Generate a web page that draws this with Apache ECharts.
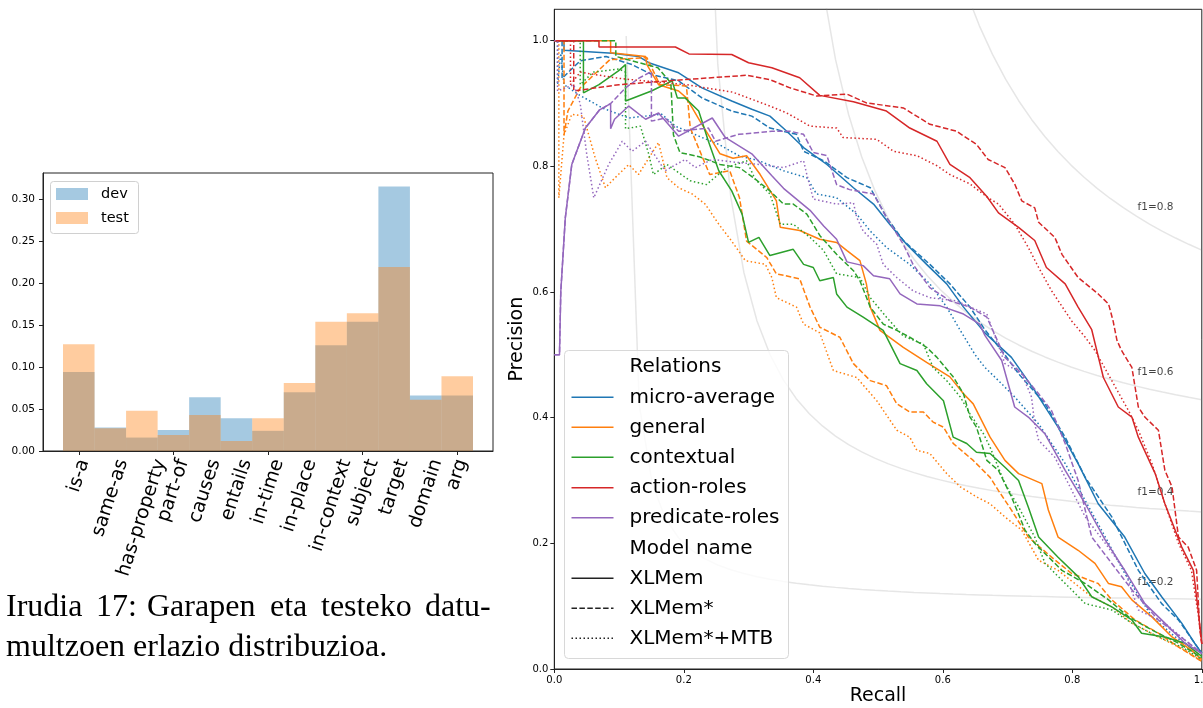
<!DOCTYPE html>
<html>
<head>
<meta charset="utf-8">
<title>Relation distribution and precision-recall curves</title>
<script src="https://cdn.jsdelivr.net/npm/echarts/dist/echarts.min.js"></script>
<style>
  html, body { margin: 0; padding: 0; background: #fff; }
  #main { width: 1203px; height: 708px; }
</style>
</head>
<body>
<div id="main"></div>
<script>
// ---- left: relation distribution (dev / test) ----
var relations = ['is-a', 'same-as', 'has-property', 'part-of', 'causes', 'entails', 'in-time',
                 'in-place', 'in-context', 'subject', 'target', 'domain', 'arg'];
var devShare  = [0.094, 0.028, 0.016, 0.025, 0.064, 0.039, 0.024, 0.070, 0.126, 0.154, 0.315, 0.066, 0.066];
var testShare = [0.127, 0.027, 0.048, 0.019, 0.043, 0.012, 0.039, 0.081, 0.154, 0.164, 0.219, 0.061, 0.089];

// ---- right: precision / recall curves, [recall, precision] ----
var microXL = [[0,1],[0.015,1],[0.015,0.985],[0.09,0.98],[0.13,0.975],[0.146,0.965],[0.192,0.949],[0.228,0.925],[0.274,0.904],[0.305,0.891],[0.333,0.88],[0.359,0.856],[0.385,0.83],[0.421,0.803],[0.462,0.766],[0.493,0.74],[0.518,0.708],[0.544,0.676],[0.575,0.644],[0.606,0.613],[0.632,0.576],[0.665,0.535],[0.706,0.496],[0.742,0.443],[0.778,0.385],[0.809,0.327],[0.84,0.263],[0.881,0.21],[0.912,0.152],[0.938,0.115],[0.969,0.073],[0.989,0.041],[1,0.025]];
var microXLs = [[0,1],[0.012,1],[0.012,0.94],[0.04,0.968],[0.08,0.975],[0.12,0.962],[0.151,0.946],[0.192,0.936],[0.228,0.909],[0.274,0.888],[0.305,0.88],[0.333,0.861],[0.374,0.851],[0.385,0.824],[0.416,0.809],[0.452,0.782],[0.488,0.766],[0.513,0.719],[0.539,0.682],[0.58,0.644],[0.611,0.613],[0.642,0.576],[0.665,0.54],[0.696,0.5],[0.717,0.47],[0.758,0.422],[0.789,0.369],[0.82,0.305],[0.861,0.242],[0.902,0.157],[0.938,0.104],[0.964,0.078],[0.989,0.041],[1,0.025]];
var microMTB = [[0,1],[0.005,1],[0.005,0.93],[0.01,0.98],[0.015,0.93],[0.038,0.914],[0.074,0.893],[0.115,0.877],[0.166,0.883],[0.187,0.864],[0.228,0.846],[0.254,0.835],[0.285,0.817],[0.316,0.809],[0.354,0.793],[0.39,0.782],[0.405,0.756],[0.436,0.75],[0.467,0.724],[0.488,0.697],[0.513,0.671],[0.549,0.644],[0.58,0.613],[0.606,0.576],[0.627,0.539],[0.65,0.5],[0.665,0.48],[0.686,0.459],[0.711,0.433],[0.748,0.39],[0.789,0.327],[0.82,0.268],[0.851,0.21],[0.881,0.152],[0.923,0.083],[0.959,0.051],[1,0.025]];

var generalXL = [[0,1],[0.087,1],[0.087,0.981],[0.141,0.975],[0.143,0.962],[0.161,0.93],[0.192,0.92],[0.204,0.909],[0.225,0.872],[0.256,0.82],[0.276,0.813],[0.297,0.817],[0.318,0.787],[0.343,0.745],[0.349,0.703],[0.379,0.698],[0.41,0.684],[0.436,0.679],[0.452,0.666],[0.472,0.65],[0.482,0.613],[0.488,0.576],[0.503,0.539],[0.539,0.512],[0.575,0.488],[0.611,0.465],[0.632,0.438],[0.647,0.422],[0.673,0.369],[0.696,0.332],[0.717,0.311],[0.753,0.295],[0.763,0.253],[0.778,0.21],[0.809,0.189],[0.835,0.168],[0.856,0.136],[0.876,0.131],[0.892,0.11],[0.923,0.083],[0.954,0.051],[0.984,0.03],[1,0.015]];
var generalXLs = [[0,1],[0.015,1],[0.015,0.85],[0.021,0.888],[0.04,0.925],[0.086,0.97],[0.143,0.973],[0.163,0.93],[0.204,0.928],[0.21,0.861],[0.24,0.787],[0.271,0.793],[0.286,0.75],[0.297,0.681],[0.328,0.655],[0.343,0.629],[0.379,0.621],[0.395,0.576],[0.41,0.544],[0.441,0.528],[0.462,0.486],[0.488,0.459],[0.513,0.451],[0.529,0.422],[0.549,0.409],[0.57,0.409],[0.585,0.393],[0.601,0.385],[0.616,0.359],[0.647,0.332],[0.673,0.305],[0.686,0.284],[0.706,0.253],[0.732,0.21],[0.768,0.178],[0.799,0.152],[0.84,0.136],[0.861,0.11],[0.897,0.078],[0.933,0.057],[0.964,0.035],[1,0.012]];
var generalMTB = [[0,1],[0.007,1],[0.007,0.75],[0.015,0.85],[0.027,0.883],[0.045,0.88],[0.063,0.814],[0.079,0.766],[0.094,0.782],[0.115,0.803],[0.13,0.787],[0.161,0.838],[0.174,0.782],[0.192,0.766],[0.213,0.756],[0.233,0.74],[0.254,0.708],[0.274,0.681],[0.295,0.65],[0.326,0.644],[0.336,0.623],[0.343,0.591],[0.374,0.576],[0.385,0.549],[0.41,0.535],[0.431,0.475],[0.467,0.464],[0.498,0.427],[0.529,0.38],[0.549,0.369],[0.56,0.348],[0.58,0.343],[0.606,0.311],[0.627,0.29],[0.652,0.274],[0.673,0.263],[0.696,0.242],[0.722,0.221],[0.748,0.173],[0.778,0.157],[0.804,0.136],[0.83,0.115],[0.861,0.099],[0.892,0.073],[0.933,0.051],[0.974,0.03],[1,0.012]];

var contextXL = [[0,1],[0.045,1],[0.045,0.917],[0.069,0.93],[0.099,0.952],[0.11,0.962],[0.11,0.904],[0.15,0.92],[0.182,0.936],[0.19,0.909],[0.202,0.909],[0.223,0.888],[0.238,0.84],[0.254,0.793],[0.274,0.761],[0.29,0.724],[0.3,0.679],[0.316,0.687],[0.333,0.658],[0.369,0.668],[0.385,0.644],[0.4,0.639],[0.41,0.618],[0.431,0.623],[0.436,0.597],[0.452,0.576],[0.477,0.56],[0.508,0.539],[0.534,0.486],[0.56,0.475],[0.575,0.454],[0.601,0.427],[0.616,0.369],[0.637,0.359],[0.652,0.345],[0.673,0.343],[0.696,0.321],[0.717,0.3],[0.732,0.258],[0.748,0.21],[0.778,0.178],[0.809,0.147],[0.83,0.115],[0.861,0.099],[0.892,0.078],[0.907,0.057],[0.943,0.051],[0.974,0.041],[1,0.02]];
var contextXLs = [[0,1],[0.095,1],[0.095,0.975],[0.16,0.957],[0.18,0.933],[0.184,0.85],[0.194,0.822],[0.225,0.815],[0.256,0.803],[0.286,0.798],[0.31,0.78],[0.333,0.761],[0.354,0.74],[0.369,0.74],[0.39,0.724],[0.41,0.69],[0.436,0.66],[0.462,0.634],[0.472,0.618],[0.488,0.576],[0.508,0.549],[0.529,0.539],[0.549,0.528],[0.575,0.512],[0.591,0.496],[0.616,0.465],[0.632,0.438],[0.642,0.401],[0.652,0.385],[0.668,0.332],[0.686,0.316],[0.706,0.274],[0.727,0.221],[0.742,0.2],[0.784,0.157],[0.82,0.136],[0.856,0.11],[0.887,0.083],[0.923,0.062],[0.964,0.041],[1,0.018]];
var contextMTB = [[0,1],[0.04,1],[0.04,0.93],[0.06,0.95],[0.1,0.955],[0.11,0.95],[0.11,0.86],[0.133,0.864],[0.146,0.819],[0.153,0.787],[0.174,0.803],[0.21,0.777],[0.235,0.771],[0.266,0.798],[0.297,0.809],[0.31,0.78],[0.333,0.756],[0.349,0.708],[0.369,0.708],[0.395,0.687],[0.416,0.666],[0.436,0.629],[0.472,0.623],[0.488,0.591],[0.513,0.56],[0.539,0.53],[0.57,0.517],[0.585,0.48],[0.606,0.459],[0.627,0.433],[0.642,0.406],[0.663,0.374],[0.673,0.353],[0.696,0.295],[0.717,0.258],[0.742,0.21],[0.758,0.168],[0.799,0.126],[0.82,0.104],[0.861,0.094],[0.892,0.073],[0.933,0.051],[0.969,0.035],[1,0.015]];

var actionXL = [[0,1],[0.069,1],[0.069,0.99],[0.187,0.99],[0.208,0.979],[0.274,0.978],[0.3,0.965],[0.336,0.957],[0.379,0.941],[0.41,0.913],[0.462,0.903],[0.513,0.888],[0.549,0.861],[0.591,0.84],[0.611,0.803],[0.642,0.782],[0.668,0.752],[0.686,0.726],[0.717,0.703],[0.742,0.682],[0.76,0.639],[0.789,0.613],[0.809,0.576],[0.83,0.54],[0.848,0.464],[0.871,0.417],[0.892,0.401],[0.902,0.369],[0.928,0.311],[0.943,0.263],[0.969,0.194],[0.987,0.157],[0.995,0.088],[1,0.04]];
var actionXLs = [[0,1],[0.03,1],[0.03,0.92],[0.1,0.93],[0.2,0.938],[0.297,0.945],[0.333,0.938],[0.364,0.925],[0.405,0.912],[0.452,0.915],[0.482,0.901],[0.539,0.893],[0.58,0.867],[0.621,0.856],[0.652,0.835],[0.67,0.811],[0.696,0.798],[0.711,0.772],[0.722,0.745],[0.742,0.734],[0.748,0.711],[0.773,0.687],[0.784,0.66],[0.809,0.623],[0.84,0.597],[0.856,0.581],[0.863,0.554],[0.869,0.523],[0.876,0.507],[0.892,0.48],[0.902,0.417],[0.912,0.401],[0.933,0.38],[0.943,0.316],[0.954,0.29],[0.964,0.21],[0.979,0.194],[0.992,0.157],[0.997,0.062],[1,0.04]];
var actionMTB = [[0,1],[0.025,1],[0.025,0.93],[0.04,0.95],[0.1,0.94],[0.15,0.935],[0.204,0.93],[0.276,0.918],[0.333,0.896],[0.359,0.885],[0.395,0.864],[0.436,0.861],[0.446,0.846],[0.498,0.843],[0.524,0.824],[0.56,0.817],[0.591,0.801],[0.611,0.787],[0.642,0.772],[0.67,0.75],[0.686,0.74],[0.711,0.708],[0.732,0.671],[0.748,0.639],[0.768,0.602],[0.799,0.554],[0.82,0.528],[0.835,0.507],[0.861,0.459],[0.887,0.411],[0.902,0.38],[0.923,0.327],[0.943,0.263],[0.964,0.2],[0.984,0.157],[0.995,0.083],[1,0.04]];

var predicateXL = [[0,0.5],[0.008,0.5],[0.01,0.6],[0.017,0.718],[0.027,0.803],[0.048,0.861],[0.07,0.89],[0.087,0.9],[0.087,0.86],[0.093,0.875],[0.115,0.896],[0.141,0.875],[0.161,0.885],[0.192,0.848],[0.244,0.877],[0.264,0.846],[0.305,0.82],[0.336,0.785],[0.354,0.765],[0.395,0.73],[0.416,0.705],[0.436,0.684],[0.452,0.648],[0.477,0.642],[0.493,0.626],[0.518,0.621],[0.534,0.597],[0.56,0.581],[0.596,0.578],[0.632,0.565],[0.657,0.549],[0.665,0.531],[0.691,0.491],[0.711,0.417],[0.732,0.401],[0.758,0.374],[0.789,0.316],[0.82,0.263],[0.851,0.205],[0.881,0.157],[0.912,0.104],[0.943,0.073],[0.974,0.041],[1,0.025]];
var predicateXLs = [[0,0.5],[0.008,0.5],[0.01,0.6],[0.017,0.718],[0.027,0.803],[0.048,0.861],[0.07,0.89],[0.087,0.9],[0.11,0.925],[0.13,0.94],[0.15,0.951],[0.15,0.872],[0.171,0.877],[0.192,0.856],[0.238,0.861],[0.249,0.84],[0.285,0.851],[0.336,0.856],[0.364,0.856],[0.385,0.851],[0.4,0.822],[0.421,0.817],[0.436,0.771],[0.456,0.763],[0.493,0.756],[0.513,0.719],[0.539,0.676],[0.554,0.644],[0.58,0.607],[0.611,0.586],[0.642,0.576],[0.668,0.56],[0.696,0.496],[0.722,0.47],[0.748,0.438],[0.768,0.411],[0.789,0.359],[0.809,0.3],[0.83,0.21],[0.861,0.168],[0.892,0.126],[0.933,0.078],[0.974,0.046],[1,0.025]];
var predicateMTB = [[0,1],[0.005,1],[0.005,0.92],[0.03,0.93],[0.04,0.9],[0.05,0.82],[0.061,0.75],[0.084,0.803],[0.105,0.84],[0.12,0.824],[0.141,0.84],[0.171,0.793],[0.202,0.811],[0.218,0.798],[0.244,0.811],[0.285,0.806],[0.316,0.803],[0.354,0.798],[0.385,0.809],[0.39,0.787],[0.4,0.748],[0.436,0.74],[0.462,0.742],[0.467,0.719],[0.477,0.697],[0.498,0.676],[0.508,0.644],[0.529,0.623],[0.554,0.602],[0.58,0.591],[0.621,0.586],[0.642,0.576],[0.668,0.565],[0.696,0.486],[0.722,0.47],[0.737,0.433],[0.742,0.39],[0.748,0.364],[0.773,0.337],[0.794,0.295],[0.82,0.242],[0.851,0.2],[0.881,0.157],[0.902,0.094],[0.943,0.073],[0.974,0.046],[1,0.025]];

var f1Levels = [0.2, 0.4, 0.6, 0.8];
var relationNames = ['micro-average', 'general', 'contextual', 'action-roles', 'predicate-roles'];
var modelNames = ['XLMem', 'XLMem*', 'XLMem*+MTB'];

var captionWords = ['Irudia', '17:', 'Garapen', 'eta', 'testeko', 'datu-'];
var captionLine2 = 'multzoen erlazio distribuzioa.';

// ---- styles ----
var tab = ['#1f77b4', '#ff7f0e', '#2ca02c', '#d62728', '#9467bd'];
var dashes = ['solid', [5.5, 2.4], [1.5, 2.5]];
var FONT = 'DejaVu Sans';

var prCurves = [
  [microXL, microXLs, microMTB],
  [generalXL, generalXLs, generalMTB],
  [contextXL, contextXLs, contextMTB],
  [actionXL, actionXLs, actionMTB],
  [predicateXL, predicateXLs, predicateMTB]
];

var chart = echarts.init(document.getElementById('main'));

var measureCtx = document.createElement('canvas').getContext('2d');
function textWidth(str, size) {
  measureCtx.font = size + 'px "' + FONT + '"';
  return measureCtx.measureText(str).width;
}

// iso-f1 guide curves, same sampling as the usual sklearn example
function isoCurve(f) {
  var pts = [];
  for (var i = 0; i < 50; i++) {
    var x = 0.01 + i * 0.99 / 49;
    var y = f * x / (2 * x - f);
    if (y >= 0) pts.push([x, y]);
  }
  return pts;
}
function isoLabelY(f) {
  var x = 0.01 + 45 * 0.99 / 49;
  return f * x / (2 * x - f) + 0.02;
}

var series = [];

// histogram bars (overlapping, alpha 0.4)
series.push({
  type: 'bar', xAxisIndex: 1, yAxisIndex: 1, data: devShare,
  barWidth: '100%', barGap: '-100%', silent: true,
  itemStyle: { color: 'rgba(31,119,180,0.4)' }
});
series.push({
  type: 'bar', xAxisIndex: 1, yAxisIndex: 1, data: testShare,
  barWidth: '100%', barGap: '-100%', silent: true,
  itemStyle: { color: 'rgba(255,127,14,0.4)' }
});

// rotated tick labels, centred on the tick like matplotlib does
var LABEL_SIZE = 19;
var LABEL_ROT = 72 * Math.PI / 180;
series.push({
  type: 'custom', xAxisIndex: 1, yAxisIndex: 1, silent: true,
  data: relations.map(function (r, i) { return [i, 0]; }),
  renderItem: function (params, api) {
    var idx = api.value(0);
    var p = api.coord([idx, 0]);
    var txt = relations[idx];
    var w = textWidth(txt, LABEL_SIZE);
    var h = LABEL_SIZE * 0.95;
    var half = (w * Math.sin(LABEL_ROT) + h * Math.cos(LABEL_ROT)) / 2;
    return {
      type: 'text', x: p[0], y: p[1] + 6 + half, rotation: LABEL_ROT,
      style: {
        text: txt, fill: '#000', fontSize: LABEL_SIZE, fontFamily: FONT,
        textAlign: 'center', textVerticalAlign: 'middle'
      }
    };
  }
});

// iso-f1 curves and labels
f1Levels.forEach(function (f) {
  series.push({
    type: 'line', xAxisIndex: 2, yAxisIndex: 2, data: isoCurve(f),
    showSymbol: false, symbol: 'none', silent: true, clip: true, z: 1,
    lineStyle: { color: 'rgba(128,128,128,0.2)', width: 1.5 }
  });
  series.push({
    type: 'scatter', xAxisIndex: 2, yAxisIndex: 2, data: [[0.9, isoLabelY(f)]],
    symbolSize: 1, silent: true, z: 1,
    itemStyle: { color: 'rgba(0,0,0,0)' },
    label: {
      show: true, position: 'right', distance: 0, offset: [0, -4],
      formatter: 'f1=' + f.toFixed(1),
      fontSize: 10.5, fontFamily: FONT, color: '#111'
    }
  });
});

// precision / recall curves
prCurves.forEach(function (group, r) {
  group.forEach(function (pts, m) {
    series.push({
      name: relationNames[r] + ' ' + modelNames[m],
      type: 'line', xAxisIndex: 2, yAxisIndex: 2, data: pts,
      showSymbol: false, symbol: 'none', silent: true, z: 3,
      lineStyle: { color: tab[r], width: 1.5, type: dashes[m] }
    });
  });
});

// ---- hand drawn legends and caption ----
var graphics = [];

// left legend
graphics.push({ type: 'rect', shape: { x: 50.5, y: 181.5, width: 88, height: 52, r: 3 },
  style: { fill: 'rgba(255,255,255,0.8)', stroke: '#d0d0d0', lineWidth: 1 }, z: 10 });
graphics.push({ type: 'rect', shape: { x: 56, y: 188, width: 32, height: 12 },
  style: { fill: 'rgba(31,119,180,0.4)' }, z: 11 });
graphics.push({ type: 'rect', shape: { x: 56, y: 212, width: 32, height: 12 },
  style: { fill: 'rgba(255,127,14,0.4)' }, z: 11 });
graphics.push({ type: 'text', x: 101, y: 194, z: 11,
  style: { text: 'dev', fontSize: 14.5, fontFamily: FONT, fill: '#000', textVerticalAlign: 'middle' } });
graphics.push({ type: 'text', x: 101, y: 218, z: 11,
  style: { text: 'test', fontSize: 14.5, fontFamily: FONT, fill: '#000', textVerticalAlign: 'middle' } });

// right legend
var legendRows = [{ text: 'Relations' }];
relationNames.forEach(function (n, i) { legendRows.push({ text: n, color: tab[i], dash: 'solid' }); });
legendRows.push({ text: 'Model name' });
modelNames.forEach(function (n, i) { legendRows.push({ text: n, color: '#222', dash: dashes[i] }); });
var legendRowY = [366.7, 397.3, 427.3, 457.3, 487.7, 517.7, 548.3, 578.3, 608.3, 638.3];

graphics.push({ type: 'rect', shape: { x: 564.5, y: 350.5, width: 224, height: 308, r: 4 },
  style: { fill: 'rgba(255,255,255,0.8)', stroke: '#d8d8d8', lineWidth: 1 }, z: 10 });
legendRows.forEach(function (row, i) {
  var y = legendRowY[i];
  if (row.color) {
    graphics.push({ type: 'line', z: 11,
      shape: { x1: 571.5, y1: y, x2: 613.5, y2: y },
      style: { stroke: row.color, lineWidth: 1.5, lineDash: row.dash === 'solid' ? null : row.dash } });
  }
  graphics.push({ type: 'text', x: 629.5, y: y, z: 11,
    style: { text: row.text, fontSize: 20, fontFamily: FONT, fill: '#000', textVerticalAlign: 'middle' } });
});

// caption (justified first line, laid out word by word)
var captionX = [6, 96, 147, 270, 321, 425];
captionWords.forEach(function (w, i) {
  graphics.push({ type: 'text', x: captionX[i], y: 608,
    style: { text: w, fontSize: 32, fontFamily: 'Liberation Serif', fill: '#000', textVerticalAlign: 'middle' } });
});
graphics.push({ type: 'text', x: 6, y: 648,
  style: { text: captionLine2, fontSize: 32, fontFamily: 'Liberation Serif', fill: '#000', textVerticalAlign: 'middle' } });

var axisText = { color: '#000', fontFamily: FONT };

var option = {
  animation: false,
  backgroundColor: '#fff',
  grid: [
    { left: 43, top: 173, width: 450, height: 278, show: true, borderColor: '#222', borderWidth: 1, outerBoundsMode: 'none' },
    { left: 63, top: 173, width: 410, height: 278, outerBoundsMode: 'none' },
    { left: 554.3, top: 9.3, width: 647.5, height: 659.7, show: true, borderColor: '#222', borderWidth: 1, outerBoundsMode: 'none' }
  ],
  xAxis: [
    { gridIndex: 0, type: 'value', min: 0, max: 1,
      axisLine: { show: true, lineStyle: { color: '#222' } },
      axisTick: { show: false }, axisLabel: { show: false }, splitLine: { show: false } },
    { gridIndex: 1, type: 'category', data: relations, boundaryGap: true,
      axisLine: { show: false },
      axisTick: { show: true, alignWithLabel: true, length: 4, lineStyle: { color: '#222' } },
      axisLabel: { show: false }, splitLine: { show: false } },
    { gridIndex: 2, type: 'value', min: 0, max: 1, interval: 0.2,
      name: 'Recall', nameLocation: 'middle', nameGap: 18, nameMoveOverlap: false,
      nameTextStyle: { fontSize: 19, fontFamily: FONT, color: '#000' },
      axisLine: { show: true, lineStyle: { color: '#222' } },
      axisTick: { show: true, length: 4, lineStyle: { color: '#222' } },
      axisLabel: Object.assign({ fontSize: 10, margin: 6, formatter: function (v) { return v.toFixed(1); } }, axisText),
      splitLine: { show: false } }
  ],
  yAxis: [
    { gridIndex: 0, type: 'value', min: 0, max: 0.331, interval: 0.05,
      axisLine: { show: true, lineStyle: { color: '#222' } },
      axisTick: { show: true, length: 4, lineStyle: { color: '#222' } },
      axisLabel: Object.assign({ fontSize: 10.5, margin: 8, showMaxLabel: false,
        formatter: function (v) { return v.toFixed(2); } }, axisText),
      splitLine: { show: false } },
    { gridIndex: 1, type: 'value', min: 0, max: 0.331, show: false },
    { gridIndex: 2, type: 'value', min: 0, max: 1.05, interval: 0.2,
      name: 'Precision', nameLocation: 'middle', nameGap: 28, nameMoveOverlap: false,
      nameTextStyle: { fontSize: 19, fontFamily: FONT, color: '#000' },
      axisLine: { show: true, lineStyle: { color: '#222' } },
      axisTick: { show: true, length: 4, lineStyle: { color: '#222' } },
      axisLabel: Object.assign({ fontSize: 10, margin: 6, showMaxLabel: false,
        formatter: function (v) { return v.toFixed(1); } }, axisText),
      splitLine: { show: false } }
  ],
  series: series,
  graphic: graphics
};

chart.setOption(option);
</script>
</body>
</html>
